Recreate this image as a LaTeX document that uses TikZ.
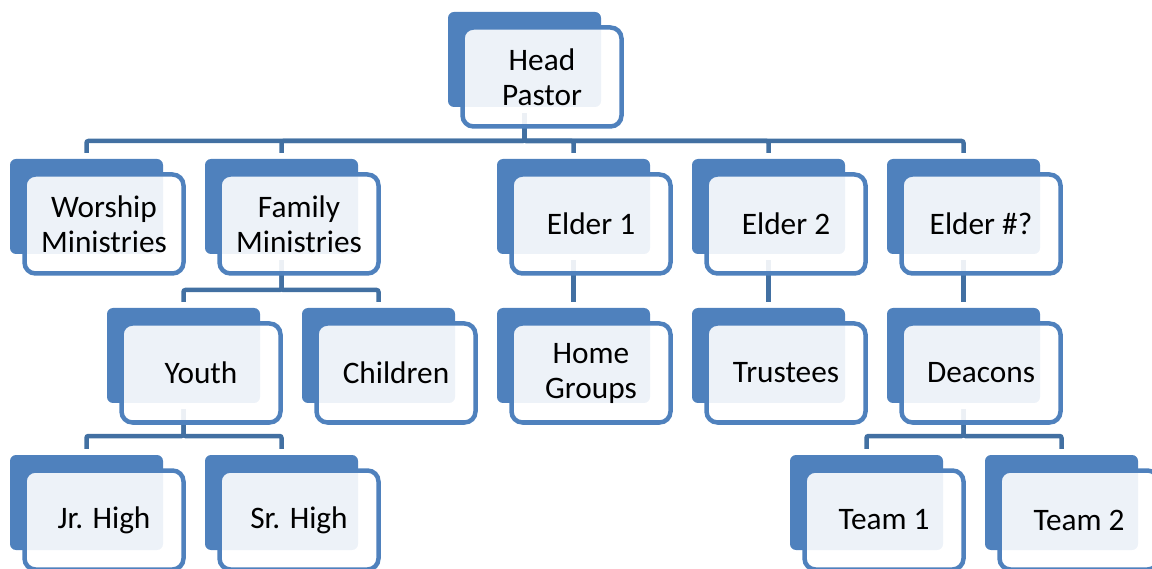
\documentclass[tikz,border=0pt]{standalone}
\usepackage{fontspec}
\setmainfont{Carlito}
\usetikzlibrary{calc}
\definecolor{backblue}{RGB}{79,129,189}
\definecolor{connblue}{RGB}{66,112,162}
\tikzset{
  backbox/.style={rectangle, fill=backblue, rounded corners=6pt, inner sep=0pt,
    minimum width=153pt, minimum height=95pt},
  frontbox/.style={rectangle, draw=backblue, line width=4.5pt, fill=white,
    fill opacity=0.9, draw opacity=1, text opacity=1, rounded corners=11pt,
    inner sep=0pt, minimum width=159pt, minimum height=99pt, align=center,
    font=\fontsize{31.3pt}{35pt}\selectfont},
  conn/.style={draw=connblue, line width=4.5pt, rounded corners=2pt}
}
\newcommand\backnode[3]{\node[backbox] (#1B) at (#2+76.5,#3+47.5) {};}
\newcommand\frontnode[4]{\node[frontbox] (#1) at (#2+94,#3+65) {#4};}
\begin{document}
\begin{tikzpicture}[x=1pt,y=-1pt]
\useasboundingbox (0,0) rectangle (1152,569);
% back boxes
\backnode{head}{448}{12}
\backnode{worship}{10}{159}
\backnode{family}{205}{159}
\backnode{elderone}{497}{159}
\backnode{eldertwo}{692}{159}
\backnode{elderq}{887}{159}
\backnode{youth}{107}{308}
\backnode{children}{302}{308}
\backnode{home}{497}{308}
\backnode{trustees}{692}{308}
\backnode{deacons}{887}{308}
\backnode{jr}{10}{455}
\backnode{sr}{205}{455}
\backnode{teamone}{790}{455}
\backnode{teamtwo}{985}{455}
% bus coordinates
\coordinate (busA) at (0,141);
\coordinate (busB) at (0,290);
\coordinate (busC) at (0,436);
% connectors
\foreach \c in {worship,family,elderone,eldertwo,elderq}
  \draw[conn] ([yshift=-6pt]headB.south) -- (headB.south |- busA) -| ([yshift=6pt]\c B.north);
\foreach \c in {youth,children}
  \draw[conn] ([yshift=-6pt]familyB.south) -- (familyB.south |- busB) -| ([yshift=6pt]\c B.north);
\draw[conn] ([yshift=-6pt]elderoneB.south) -- ([yshift=6pt]homeB.north);
\draw[conn] ([yshift=-6pt]eldertwoB.south) -- ([yshift=6pt]trusteesB.north);
\draw[conn] ([yshift=-6pt]elderqB.south) -- ([yshift=6pt]deaconsB.north);
\foreach \c in {jr,sr}
  \draw[conn] ([yshift=-6pt]youthB.south) -- (youthB.south |- busC) -| ([yshift=6pt]\c B.north);
\foreach \c in {teamone,teamtwo}
  \draw[conn] ([yshift=-6pt]deaconsB.south) -- (deaconsB.south |- busC) -| ([yshift=6pt]\c B.north);
% front boxes
\frontnode{head}{448}{12}{Head\\Pastor}
\frontnode{worship}{10}{159}{Worship\\Ministries}
\frontnode{family}{205}{159}{Family\\Ministries}
\frontnode{elderone}{497}{159}{Elder 1}
\frontnode{eldertwo}{692}{159}{Elder 2}
\frontnode{elderq}{887}{159}{Elder \#?}
\frontnode{youth}{107}{308}{Youth}
\frontnode{children}{302}{308}{Children}
\frontnode{home}{497}{308}{Home\\Groups}
\frontnode{trustees}{692}{308}{Trustees}
\frontnode{deacons}{887}{308}{Deacons}
\frontnode{jr}{10}{455}{Jr. High}
\frontnode{sr}{205}{455}{Sr. High}
\frontnode{teamone}{790}{455}{Team 1}
\frontnode{teamtwo}{985}{455}{Team 2}
\end{tikzpicture}
\end{document}
